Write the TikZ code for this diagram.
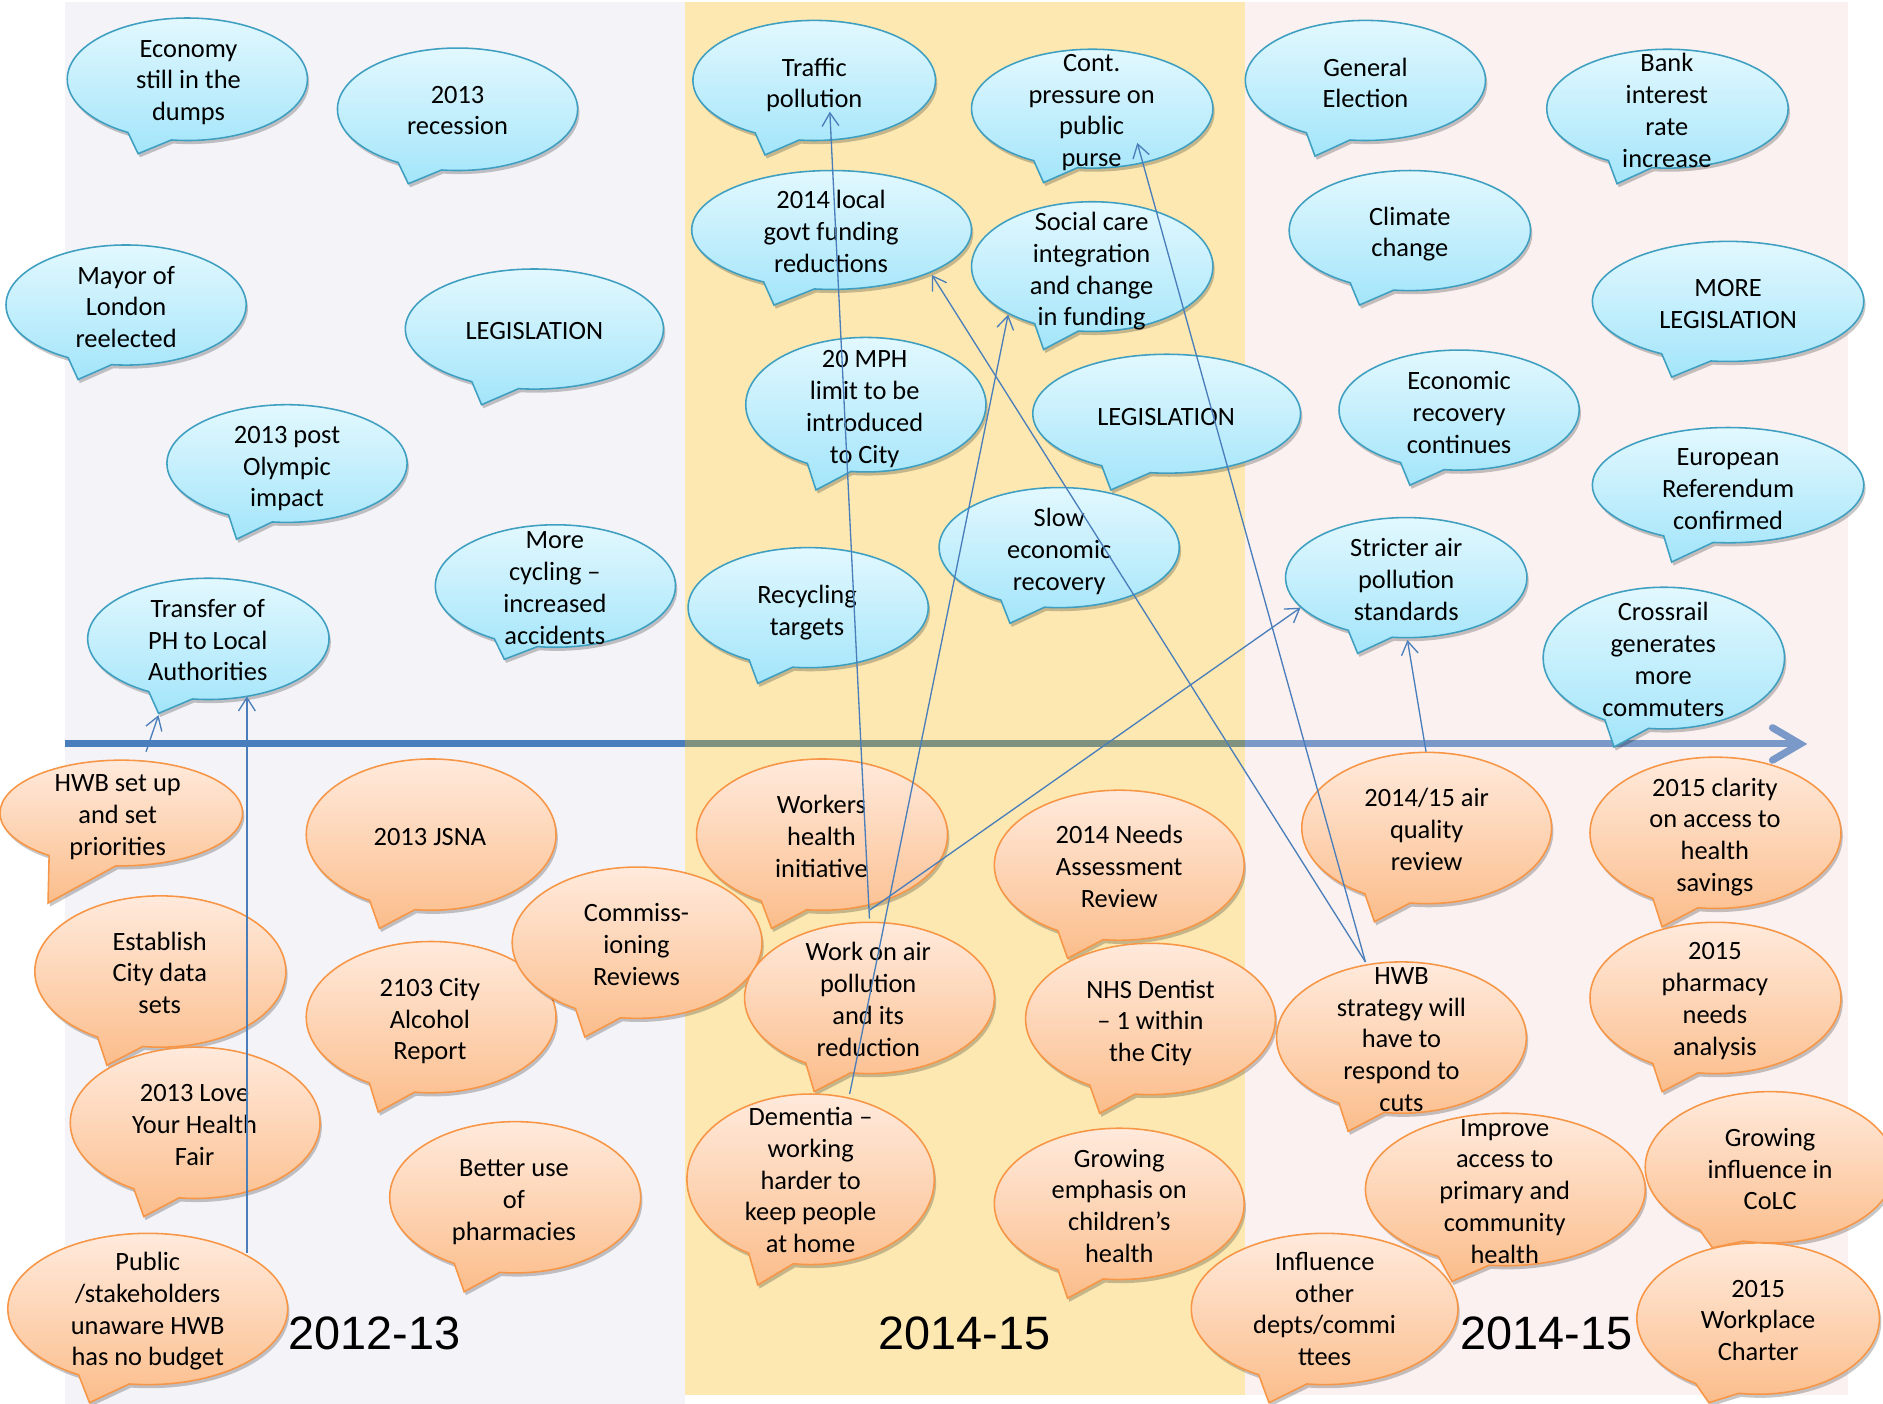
\documentclass[tikz,border=0pt]{standalone}
\usepackage{fontspec}
\setmainfont{Carlito}
\newfontfamily\yearfont{Liberation Sans}
\usetikzlibrary{shapes.callouts,shadows,arrows.meta}
\definecolor{panelL}{HTML}{F4F3F8}
\definecolor{panelM}{HTML}{FDE8B1}
\definecolor{panelR}{HTML}{FAF1F0}
\definecolor{axL}{HTML}{4A7DBB}
\definecolor{axM}{HTML}{7F917F}
\definecolor{axR}{HTML}{7B99C8}
\definecolor{bluetop}{HTML}{E2F8FE}
\definecolor{bluebot}{HTML}{A3E5FA}
\definecolor{bluebd}{HTML}{3F9FC1}
\definecolor{ortop}{HTML}{FFEADC}
\definecolor{orbot}{HTML}{FBBD8B}
\definecolor{orbd}{HTML}{F79646}
\definecolor{connc}{HTML}{4A7EBB}
\newcommand\mystrut{\rule[-6pt]{0pt}{22pt}}
% style, name, centre, width, height, tip, text centre, text
\newcommand\bub[8]{%
  \node[#1, minimum width=#4pt, minimum height=#5pt, callout absolute pointer={#6}] (#2) at #3 {};
  \node[lbl] (#2-t) at #7 {#8};
}
\begin{document}
\begin{tikzpicture}[x=1pt,y=1pt,
  bub/.style={ellipse callout, inner sep=0pt, outer sep=0pt, callout pointer arc=22, line width=1.3pt,
    drop shadow={shadow xshift=1.5pt, shadow yshift=-3pt, opacity=0.22, fill=black}},
  bb/.style={bub, draw=bluebd, top color=bluetop, bottom color=bluebot},
  ob/.style={bub, draw=orbd, top color=ortop, bottom color=orbot},
  lbl/.style={align=center, inner sep=0pt, yshift=-4pt, font=\fontsize{22}{26.5}\selectfont,
    execute at begin node=\mystrut, execute at end node=\mystrut},
  yr/.style={inner sep=0pt, font=\yearfont\fontsize{39}{45}\selectfont},
  conn/.style={draw=connc, line width=1.1pt, -{Straight Barb[length=11pt,width=14pt]}},
  axseg/.style={line width=6pt}]
\useasboundingbox (0,0) rectangle (1568,-1169);
\clip (0,0) rectangle (1568,-1169);
\fill[white] (0,0) rectangle (1568,-1169);
% panels
\fill[panelL] (54,-2) rectangle (570,-1169);
\fill[panelM] (570,-2) rectangle (1037,-1162);
\fill[panelR] (1037,-2) rectangle (1539,-1162);
% axis
\coordinate (ax0) at (54,-619);
\coordinate (ax1) at (570,-619);
\coordinate (ax2) at (1037,-619);
\coordinate (ax3) at (1494,-619);
\coordinate (axTip) at (1499,-619.5);
\coordinate (axArmA) at (1476,-606);
\coordinate (axArmB) at (1476,-633);
\draw[axseg, draw=axL] (ax0) -- (ax1);
\draw[axseg, draw=axM] (ax1) -- (ax2);
\draw[axseg, draw=axR] (ax2) -- (ax3);
\draw[axseg, draw=axR, line cap=round, line join=miter] (axArmA) -- (axTip) -- (axArmB);

% blue callouts
\bub{bb}{econ}{(156,-66)}{200}{102}{(115,-128)}{(157,-66)}{Economy\\still in the\\dumps}
\bub{bb}{rec}{(381,-91)}{200}{102}{(340,-153)}{(381,-91)}{2013\\recession}
\bub{bb}{mayor}{(105,-254)}{200}{100}{(65,-316)}{(105,-254.5)}{Mayor of\\London\\reelected}
\bub{bb}{legA}{(445,-274)}{215}{100}{(401,-337)}{(445,-274)}{LEGISLATION}
\bub{bb}{olymp}{(239,-386)}{200}{98}{(197,-449)}{(239,-387.5)}{2013 post\\Olympic\\impact}
\bub{bb}{transfer}{(173.5,-532)}{201}{101}{(132,-594)}{(173,-532)}{Transfer of\\PH to Local\\Authorities}
\bub{bb}{cycling}{(462.5,-488)}{200}{102}{(420,-549)}{(462,-488.5)}{More\\cycling --\\increased\\accidents}
\bub{bb}{traffic}{(678,-67)}{202}{100}{(637,-129)}{(678,-68)}{Traffic\\pollution}
\bub{bb}{cont}{(909.5,-90.5)}{201}{99}{(869,-152)}{(909,-91)}{Cont.\\pressure on\\public\\purse}
\bub{bb}{locgov}{(692.5,-191.5)}{233}{99}{(644.5,-254)}{(692,-191.5)}{2014 local\\govt funding\\reductions}
\bub{bb}{social}{(909.5,-222)}{201}{108}{(869,-291)}{(909,-223)}{Social care\\integration\\and change\\in funding}
\bub{bb}{mph}{(721,-337)}{200}{112}{(679.5,-408)}{(720,-338)}{20 MPH\\limit to be\\introduced\\to City}
\bub{bb}{legB}{(971.5,-344.5)}{223}{99}{(925,-408)}{(971,-345)}{LEGISLATION}
\bub{bb}{recyc}{(673,-506)}{200}{100}{(631,-569)}{(672,-507)}{Recycling\\targets}
\bub{bb}{slow}{(882,-456)}{200}{100}{(841,-519)}{(882,-456.5)}{Slow\\economic\\recovery}
\bub{bb}{general}{(1137,-67)}{200}{100}{(1095,-130)}{(1137,-68)}{General\\Election}
\bub{bb}{bank}{(1388.5,-90.5)}{201}{99}{(1346.5,-153)}{(1388,-91)}{Bank\\interest\\rate\\increase}
\bub{bb}{climate}{(1174,-192)}{201}{100}{(1132,-254)}{(1174,-192)}{Climate\\change}
\bub{bb}{moreleg}{(1439,-251)}{226}{100}{(1392,-314)}{(1439,-252)}{MORE\\LEGISLATION}
\bub{bb}{econrec}{(1215,-341.5)}{200}{100}{(1174,-404)}{(1215,-342.5)}{Economic\\recovery\\continues}
\bub{bb}{euro}{(1439,-404)}{226}{96}{(1392,-468)}{(1439,-406)}{European\\Referendum\\confirmed}
\bub{bb}{stricter}{(1171,-481)}{201}{100}{(1130.5,-544)}{(1171,-481.5)}{Stricter air\\pollution\\standards}
\bub{bb}{cross}{(1385.5,-548)}{201}{118}{(1344,-622)}{(1385,-548)}{Crossrail\\generates\\more\\commuters}

% orange callouts
\bub{ob, callout pointer arc=34}{hwbset}{(101,-677)}{202}{88}{(40,-752)}{(98,-677.5)}{HWB set up\\and set\\priorities}
\bub{ob}{jsna}{(359,-695)}{208}{126}{(316,-773)}{(358,-695)}{2013 JSNA}
\bub{ob}{establish}{(133.5,-809)}{209}{126}{(89,-887)}{(133,-809)}{Establish\\City data\\sets}
\bub{ob}{alcohol}{(359,-847)}{208}{126}{(315,-926)}{(358,-847.5)}{2103 City\\Alcohol\\Report}
\bub{ob}{commiss}{(530.5,-785)}{208}{126}{(487,-863.5)}{(530,-785.5)}{Commiss-\\ioning\\Reviews}
\bub{ob}{love}{(162.5,-935)}{208}{126}{(119.7,-1013)}{(162,-935.5)}{2013 Love\\Your Health\\Fair}
\bub{ob}{better}{(429,-997)}{209}{126}{(386.5,-1075.6)}{(428,-998)}{Better use\\of\\pharmacies}
\bub{ob}{public}{(123,-1090)}{233}{126}{(74.5,-1168)}{(123,-1089)}{Public\\/stakeholders\\unaware HWB\\has no budget}
\bub{ob}{workers}{(684.5,-695)}{209}{126}{(642.5,-773)}{(684,-695.5)}{Workers\\health\\initiative}
\bub{ob}{needs}{(932,-720.5)}{208}{125}{(889,-798)}{(932,-720.5)}{2014 Needs\\Assessment\\Review}
\bub{ob}{workair}{(724,-831)}{208}{126}{(678,-909)}{(723,-831)}{Work on air\\pollution\\and its\\reduction}
\bub{ob}{dementia}{(675,-982)}{206}{142}{(631,-1070)}{(675,-981.5)}{Dementia --\\working\\harder to\\keep people\\at home}
\bub{ob}{nhs}{(958,-848.5)}{208}{126}{(915.7,-927)}{(958,-849)}{NHS Dentist\\-- 1 within\\the City}
\bub{ob}{growing}{(932,-1002.5)}{208}{126}{(889,-1081)}{(932,-1003)}{Growing\\emphasis on\\children’s\\health}
\bub{ob}{airq}{(1188,-689.5)}{208}{126}{(1144.5,-767.5)}{(1188,-689.5)}{2014/15 air\\quality\\review}
\bub{ob}{clarity}{(1428.5,-693.5)}{209}{126}{(1384,-771.7)}{(1428,-694)}{2015 clarity\\on access to\\health\\savings}
\bub{ob}{pharm}{(1428.5,-831)}{209}{126}{(1384,-909)}{(1428,-831)}{2015\\pharmacy\\needs\\analysis}
\bub{ob}{hwbstrat}{(1167,-864)}{208}{126}{(1122.6,-942)}{(1167,-864.5)}{HWB\\strategy will\\have to\\respond to\\cuts}
\bub{ob}{improve}{(1253.5,-990.5)}{233}{127}{(1209,-1067)}{(1253,-991)}{Improve\\access to\\primary and\\community\\health}
\bub{ob}{colc}{(1474,-972)}{208}{126}{(1426,-1039)}{(1474,-972.5)}{Growing\\influence in\\CoLC}
\bub{ob}{charter}{(1464,-1098)}{202}{126}{(1423,-1168)}{(1464,-1098.5)}{2015\\Workplace\\Charter}
\bub{ob}{influence}{(1103,-1090)}{222}{126}{(1056.7,-1168)}{(1103,-1089)}{Influence\\other\\depts/commi\\ttees}

% year labels
\node[yr] (yearA) at (312,-1110) {2012-13};
\node[yr] (yearB) at (803,-1110) {2014-15};
\node[yr] (yearC) at (1288,-1110) {2014-15};

% connector end points
\coordinate (hwbsetTop) at (121.6,-626);
\coordinate (transferTailIn) at (132,-595.5);
\coordinate (publicTop) at (205.6,-1043);
\coordinate (transferBottom) at (205.6,-580);
\coordinate (workairTopA) at (724,-765);
\coordinate (workairTopB) at (724,-758);
\coordinate (trafficIn) at (691,-93);
\coordinate (stricterIn) at (1083,-506);
\coordinate (dementiaTop) at (707.5,-911);
\coordinate (socialIn) at (839.5,-262);
\coordinate (hwbstratTop) at (1137,-801);
\coordinate (locgovIn) at (776,-229);
\coordinate (contIn) at (947,-119);
\coordinate (airqTop) at (1187.5,-626);
\coordinate (stricterBottom) at (1172,-533);

\draw[conn] (hwbsetTop) -- (transferTailIn);
\draw[conn] (publicTop) -- (transferBottom);
\draw[conn] (workairTopA) -- (trafficIn);
\draw[conn] (workairTopB) -- (stricterIn);
\draw[conn] (dementiaTop) -- (socialIn);
\draw[conn] (hwbstratTop) -- (locgovIn);
\draw[conn] (hwbstratTop) -- (contIn);
\draw[conn] (airqTop) -- (stricterBottom);
\end{tikzpicture}
\end{document}
